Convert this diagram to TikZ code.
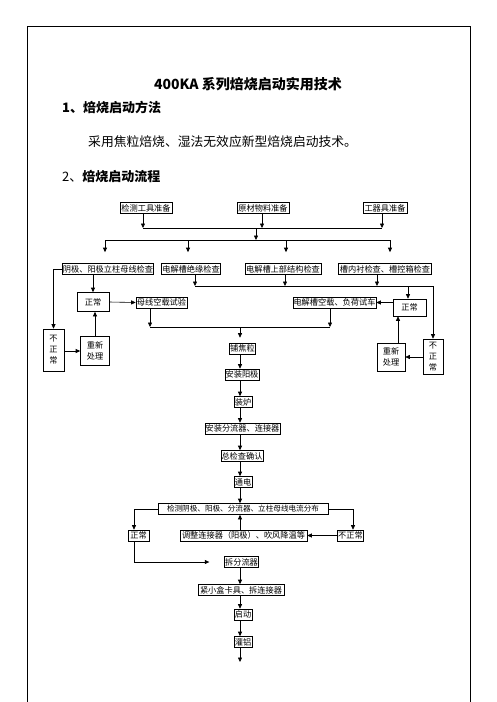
\documentclass[tikz,border=0pt]{standalone}
\usepackage{fontspec}
\setmainfont{Noto Sans CJK SC}
\usetikzlibrary{arrows.meta,calc}
\begin{document}
\begin{tikzpicture}[x=1pt,y=-1pt,
  box/.style={draw,line width=0.6pt,inner xsep=0.5pt,inner ysep=1pt,
    font=\fontsize{8.2}{9}\selectfont,minimum height=11pt},
  bigbox/.style={draw,line width=0.6pt,inner sep=1pt,align=center,
    font=\fontsize{8.2}{11}\selectfont},
  ln/.style={line width=0.6pt},
  arr/.style={line width=0.6pt,-{Triangle[length=4.5pt,width=4pt]}},
  txt/.style={inner sep=0pt,anchor=west}]
\useasboundingbox (0,0) rectangle (496,702);
% page border
\draw[line width=0.8pt] (27,702) -- (27,26) -- (470,26) -- (470,702);
% texts
\node[inner sep=0pt,font=\fontsize{14}{16}\selectfont\bfseries] (title) at (248,84) {400KA 系列焙烧启动实用技术};
\node[txt,font=\fontsize{13}{15}\selectfont\bfseries] (h1) at (62,107) {1、焙烧启动方法};
\node[txt,font=\fontsize{12.8}{15}\selectfont] (p1) at (88,142) {采用焦粒焙烧、湿法无效应新型焙烧启动技术。};
\node[txt,font=\fontsize{13}{15}\selectfont] (h2) at (62,177) {2、\textbf{焙烧启动流程}};
% row 1
\node[box,minimum width=52pt] (t1) at (146,208) {检测工具准备};
\node[box,minimum width=52pt] (t2) at (263,208) {原材物料准备};
\node[box,minimum width=44pt] (t3) at (385,208) {工器具准备};
\coordinate (b1L) at (143,228);
\coordinate (b1M) at (256,228);
\coordinate (b1R) at (382,228);
\coordinate (b2M) at (256,240);
\draw[arr] (t1.south -| b1L) -- (b1L);
\draw[arr] (t2.south -| 262,0) -- (262,228);
\draw[arr] (t3.south -| b1R) -- (b1R);
\draw[ln] (b1L) -- (b1R);
\draw[arr] (b1M) -- (b2M);
% row 2
\node[box,minimum width=89pt] (r1) at (108,269) {阴极、阳极立柱母线检查};
\node[box,minimum width=59pt] (r2) at (191,269) {电解槽绝缘检查};
\node[box,minimum width=76pt] (r3) at (283,269) {电解槽上部结构检查};
\node[box,minimum width=93pt] (r4) at (385,269) {槽内衬检查、槽控箱检查};
\coordinate (b2L) at (105,240);
\coordinate (b2R) at (390,240);
\draw[ln] (b2L) -- (b2R);
\draw[arr,shorten >=11pt] (b2L) -- (b2L |- r1.north);
\draw[arr,shorten >=11pt] (188,240) -- (188,0 |- r2.north);
\draw[arr,shorten >=11pt] (286,240) -- (286,0 |- r3.north);
\draw[arr,shorten >=11pt] (b2R) -- (b2R |- r4.north);
% left branch
\node[bigbox,minimum width=32pt,minimum height=19pt] (zcL) at (93,302) {正常};
\node[bigbox,minimum width=21pt,minimum height=42pt] (nzL) at (53.5,350) {不\\正\\常};
\node[bigbox,minimum width=29pt,minimum height=29pt] (cxL) at (95,351) {重新\\处理};
\node[box,minimum width=51pt] (mx) at (161.5,302.5) {母线空载试验};
\draw[arr] (r1.west) -| (nzL.north);
\draw[arr] (r1.south -| zcL.north) -- (zcL.north);
\draw[arr] (zcL.east) -- (mx.west);
\draw[arr] (nzL.east |- cxL) -- (cxL.west);
\draw[arr] (cxL.north) -- (cxL.north |- zcL.south);
% right branch
\node[box,minimum width=83pt] (dk) at (334.5,302.5) {电解槽空载、负荷试车};
\node[bigbox,minimum width=33pt,minimum height=17pt] (zcR) at (409.5,307.5) {正常};
\node[bigbox,minimum width=20pt,minimum height=35pt] (nzR) at (433,356.5) {不\\正\\常};
\node[bigbox,minimum width=28pt,minimum height=28pt] (cxR) at (391,357) {重新\\处理};
\coordinate (b4a) at (195,286);
\coordinate (b4b) at (285,286);
\coordinate (b4c) at (377,286);
\coordinate (b4d) at (408,286);
\coordinate (b4e) at (433,286);
\draw[arr] (r2.south -| b4a) -- (b4a);
\draw[arr] (r3.south -| b4b) -- (b4b);
\draw[arr] (r4.south -| b4c) -- (b4c);
\draw[ln] (b4a) -- (b4e);
\draw[arr] (b4d) -- (b4d |- zcR.north);
\draw[arr] (b4e) -- (nzR.north);
\draw[arr] (zcR.west |- dk) -- (dk.east);
\draw[arr] (nzR.west |- cxR) -- (cxR.east);
\draw[arr] ([xshift=7pt]cxR.north) -- ([xshift=7pt]cxR.north |- zcR.south);
% merge
\coordinate (b3L) at (150,327);
\coordinate (b3M) at (240,327);
\coordinate (b3R) at (330,327);
\draw[arr] (mx.south -| b3L) -- (b3L);
\draw[arr] (dk.south -| b3R) -- (b3R);
\draw[ln] (b3L) -- (b3R);
% main chain
\node[box,minimum width=25pt] (pjl) at (242.5,348.5) {铺焦粒};
\node[box,minimum width=34pt] (azyj) at (242,374.5) {安装阳极};
\node[box,minimum width=18pt] (zl) at (243,402) {装炉};
\node[box,minimum width=75pt] (azfl) at (242.5,428.5) {安装分流器、连接器};
\node[box,minimum width=42pt] (zjc) at (242,456) {总检查确认};
\node[box,minimum width=18pt] (td) at (243,482) {通电};
\node[box,minimum width=170pt,font=\fontsize{7.6}{9}\selectfont] (jc) at (243,509) {检测阴极、阳极、分流器、立柱母线电流分布};
\draw[arr,shorten >=5pt] (b3M) -- (b3M |- pjl.north);
\draw[arr] (b3M |- pjl.south) -- (b3M |- azyj.north);
\draw[arr] (b3M |- azyj.south) -- (b3M |- zl.north);
\draw[arr] (b3M |- zl.south) -- (b3M |- azfl.north);
\draw[arr] (b3M |- azfl.south) -- (b3M |- zjc.north);
\draw[arr] (b3M |- zjc.south) -- (b3M |- td.north);
\draw[arr] (b3M |- td.south) -- (b3M |- jc.north);
% bottom branch
\node[box,minimum width=21pt] (zcB) at (138.5,535.5) {正常};
\node[box,minimum width=25pt] (nzB) at (350.5,535.5) {不正常};
\node[box,minimum width=127pt] (tz) at (243.5,535.5) {调整连接器（阳极）、吹风降温等};
\node[box,minimum width=33pt] (cfl) at (241.5,562) {拆分流器};
\coordinate (cB) at (134,535);
\draw[arr] (jc.west) -| (cB |- zcB.north);
\draw[arr] (jc.east) -| (353,0 |- nzB.north);
\draw[arr] (nzB.west) -- (tz.east);
\draw[arr] (b3M |- tz.north) -- (b3M |- jc.south);
\draw[arr,shorten >=15pt] (cB |- zcB.south) |- (cfl.west);
\node[box,minimum width=86pt] (jxh) at (241,590) {紧小盒卡具、拆连接器};
\node[box,minimum width=18pt] (qd) at (243,614.5) {启动};
\node[box,minimum width=18pt] (gl) at (243,642) {灌铝};
\coordinate (end) at (240,662);
\draw[arr] (b3M |- cfl.south) -- (b3M |- jxh.north);
\draw[arr] (b3M |- jxh.south) -- (b3M |- qd.north);
\draw[arr] (b3M |- qd.south) -- (b3M |- gl.north);
\draw[arr] (b3M |- gl.south) -- (end);
\end{tikzpicture}
\end{document}
